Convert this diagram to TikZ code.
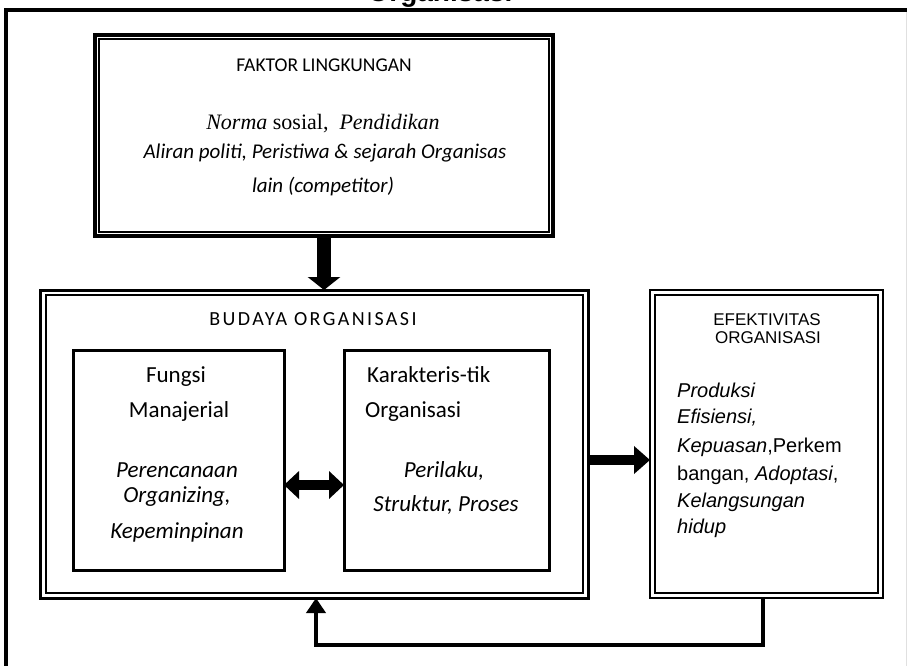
\documentclass[tikz,border=0pt]{standalone}
\usepackage{fontspec}
\setmainfont{Carlito}
\newfontfamily\arialf{Liberation Sans}
\newfontfamily\serf{Liberation Serif}
\newfontfamily\spacedf[LetterSpace=12]{Carlito}
\usetikzlibrary{arrows.meta,calc}
\begin{document}
\begin{tikzpicture}[x=1pt,y=-1pt,
  outerbox/.style={draw, line width=3.5pt, inner sep=0pt, outer sep=0pt, anchor=north west},
  innerbox/.style={draw, line width=1.3pt, inner sep=0pt, outer sep=0pt, anchor=north west},
  plainbox/.style={draw, line width=3pt, inner sep=0pt, outer sep=0pt, anchor=north west},
  lbl/.style={inner sep=0pt, anchor=base},
  lblw/.style={inner sep=0pt, anchor=base west},
]
\useasboundingbox (0,0) rectangle (907,666);
\fill[white] (0,0) rectangle (907,666);
\begin{scope}
  \clip (0,0) rectangle (907,666);
  \node[lbl, font=\arialf\bfseries\fontsize{28}{30}\selectfont] (title) at (440,1.5) {Organisasi};
\end{scope}
% frame
\coordinate (frTL) at (6,10);
\coordinate (frTR) at (907,10);
\coordinate (frBL) at (6,666);
\draw[line width=4pt, line join=miter] (frBL) -- (frTL) -- (frTR);
\draw[black!12, line width=1pt] (906,12) -- (906,666);

% boxes
\node[outerbox, minimum width=458pt, minimum height=201pt] (faktor) at (95,35) {};
\node[innerbox, minimum width=450pt, minimum height=193pt] (faktorin) at (99,39) {};
\node[outerbox, line width=3pt, minimum width=548pt, minimum height=308pt] (budaya) at (40,290) {};
\node[innerbox, minimum width=537pt, minimum height=298pt] (budayain) at (46,295) {};
\node[outerbox, line width=2pt, minimum width=233pt, minimum height=308pt] (efek) at (650,290) {};
\node[innerbox, line width=2.6pt, minimum width=223pt, minimum height=298pt] (efekin) at (655,295) {};
\node[plainbox, minimum width=211pt, minimum height=220pt] (fungsi) at (73,350) {};
\node[plainbox, minimum width=205pt, minimum height=220pt] (karakter) at (344,350) {};

% texts: faktor
\node[lbl, font=\fontsize{19.5}{22}\selectfont] (t1) at (324,72) {FAKTOR LINGKUNGAN};
\node[lbl, font=\serf\fontsize{22}{25}\selectfont] (t2) at (323,130) {\textit{Norma} sosial,\ \ \textit{Pendidikan}};
\node[lbl, font=\itshape\fontsize{21}{24}\selectfont] (t3) at (325,158) {Aliran politi, Peristiwa \& sejarah Organisas};
\node[lbl, font=\itshape\fontsize{21}{24}\selectfont] (t4) at (323,192) {lain (competitor)};

% budaya
\node[lbl, font=\spacedf\fontsize{20}{24}\selectfont] (t5) at (313,325) {BUDAYA ORGANISASI};
\node[lbl, font=\fontsize{23}{26}\selectfont] (t6) at (176,382) {Fungsi};
\node[lbl, font=\fontsize{23}{26}\selectfont] (t7) at (179,417) {Manajerial};
\node[lbl, font=\itshape\fontsize{23}{26}\selectfont] (t8) at (177,477) {Perencanaan};
\node[lbl, font=\itshape\fontsize{23}{26}\selectfont] (t9) at (177,502) {Organizing,};
\node[lbl, font=\itshape\fontsize{23}{26}\selectfont] (t10) at (177,538) {Kepeminpinan};
\node[lblw, font=\fontsize{23}{26}\selectfont] (t11) at (367,382) {Karakteris-tik};
\node[lblw, font=\fontsize{23}{26}\selectfont] (t12) at (365,417) {Organisasi};
\node[lbl, font=\itshape\fontsize{23}{26}\selectfont] (t13) at (444,477) {Perilaku,};
\node[lbl, font=\itshape\fontsize{23}{26}\selectfont] (t14) at (446,511) {Struktur, Proses};

% efektivitas
\node[lbl, font=\arialf\fontsize{17}{20}\selectfont] (t15) at (767,325) {EFEKTIVITAS};
\node[lbl, font=\arialf\fontsize{17}{20}\selectfont] (t16) at (768,343) {ORGANISASI};
\node[lblw, font=\arialf\itshape\fontsize{20}{24}\selectfont] (t17) at (677,397) {Produksi};
\node[lblw, font=\arialf\itshape\fontsize{20}{24}\selectfont] (t18) at (677,423) {Efisiensi,};
\node[lblw, font=\arialf\fontsize{20}{24}\selectfont] (t19) at (677,452) {\textit{Kepuasan},Perkem};
\node[lblw, font=\arialf\fontsize{20}{24}\selectfont] (t20) at (677,480) {bangan, \textit{Adoptasi},};
\node[lblw, font=\arialf\itshape\fontsize{20}{24}\selectfont] (t21) at (677,507) {Kelangsungan};
\node[lblw, font=\arialf\itshape\fontsize{20}{24}\selectfont] (t22) at (677,533) {hidup};

% connectors
\coordinate (ry) at (0,460);
\coordinate (dy) at (0,485);
\coordinate (fbx) at (763,0);
\coordinate (fby) at (0,645);
\coordinate (fbu) at (316,0);
\draw[line width=14pt, -{Triangle[width=32pt,length=13pt]}] (faktor.south) -- (budaya.north -| faktor.south);
\draw[line width=10pt, -{Triangle[width=27pt,length=16pt]}] (budaya.east |- ry) -- (efek.west |- ry);
\draw[line width=10pt, {Triangle[width=27pt,length=15pt]}-{Triangle[width=27pt,length=15pt]}] (fungsi.east |- dy) -- (karakter.west |- dy);
\draw[line width=4pt, line join=miter, -{Triangle[width=19pt,length=15pt]}] (efek.south -| fbx) |- (fbu |- fby) -- (budaya.south -| fbu);
\end{tikzpicture}
\end{document}
